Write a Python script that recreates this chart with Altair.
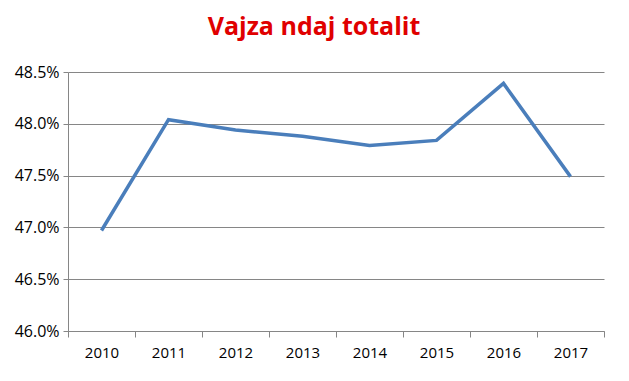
import altair as alt
import pandas as pd

years = ["2010", "2011", "2012", "2013", "2014", "2015", "2016", "2017"]
values = [0.4697, 0.4804, 0.4794, 0.4788, 0.4779, 0.4784, 0.4839, 0.4749]
y_ticks = [0.46, 0.465, 0.47, 0.475, 0.48, 0.485]

df = pd.DataFrame({"year": years, "value": values})

chart = alt.Chart(df).mark_line(color="#4a7ebb", strokeWidth=3.5).encode(
    x=alt.X("year:O", bandPosition=0.5, sort=years,
            scale=alt.Scale(type="band", paddingInner=0, paddingOuter=0),
            axis=alt.Axis(title=None, labelAngle=0, tickBand="extent", grid=False,
                          domainColor="#868686", tickColor="#868686", tickSize=6,
                          labelFont="Open Sans", labelFontSize=15, labelColor="#000000",
                          labelPadding=8)),
    y=alt.Y("value:Q",
            scale=alt.Scale(domain=[0.46, 0.485], nice=False, zero=False),
            axis=alt.Axis(title=None, values=y_ticks, format=".1%", grid=True,
                          gridColor="#868686", gridWidth=1,
                          domainColor="#868686", tickColor="#868686", tickSize=5,
                          labelFont="Open Sans", labelFontSize=16, labelColor="#000000",
                          labelPadding=4)),
).properties(
    width=536,
    height=259,
    title=alt.TitleParams("Vajza ndaj totalit", color="#e00000", font="Open Sans",
                          fontSize=25, fontWeight="bold", anchor="middle", dx=-22,
                          offset=24),
    autosize=alt.AutoSizeParams(type="none"),
    padding={"left": 60, "top": 64, "right": 17, "bottom": 42},
).configure_view(strokeOpacity=0)

chart.save("out.html", embed_options={"renderer": "svg", "actions": False})
